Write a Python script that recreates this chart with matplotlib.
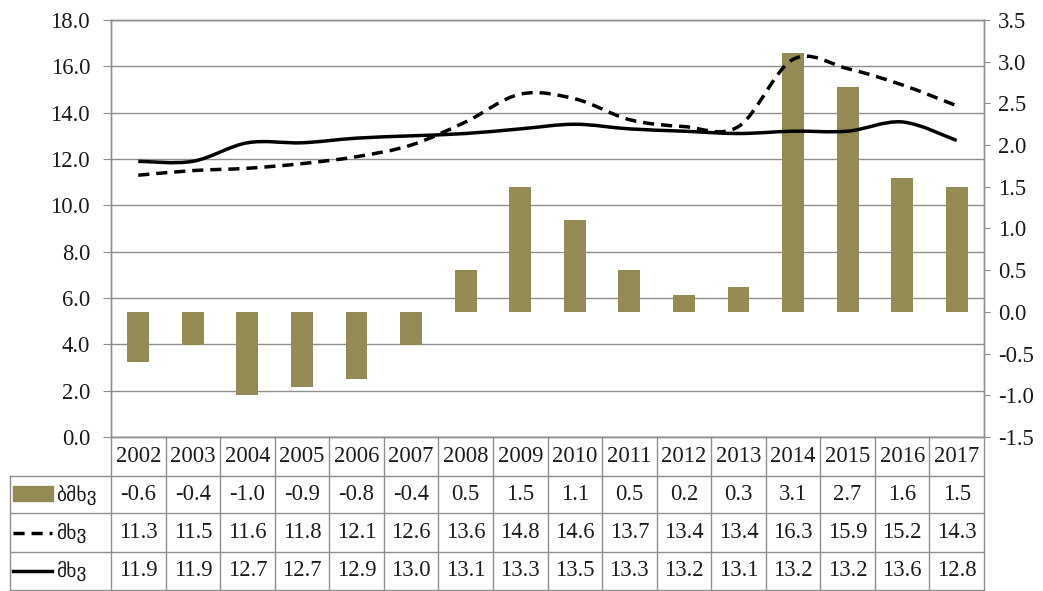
import numpy as np
import matplotlib
matplotlib.use("Agg")
import matplotlib.pyplot as plt
from matplotlib.patches import Rectangle, PathPatch
from matplotlib.lines import Line2D
from matplotlib.path import Path
import matplotlib.transforms as mtransforms

plt.rcParams["font.family"] = ["Liberation Serif", "DejaVu Sans"]
plt.rcParams["axes.unicode_minus"] = False

# ---- data ----
years = ["2002", "2003", "2004", "2005", "2006", "2007", "2008", "2009",
         "2010", "2011", "2012", "2013", "2014", "2015", "2016", "2017"]
bar_values = [-0.6, -0.4, -1.0, -0.9, -0.8, -0.4, 0.5, 1.5,
              1.1, 0.5, 0.2, 0.3, 3.1, 2.7, 1.6, 1.5]
dashed_values = [11.3, 11.5, 11.6, 11.8, 12.1, 12.6, 13.6, 14.8,
                 14.6, 13.7, 13.4, 13.4, 16.3, 15.9, 15.2, 14.3]
solid_values = [11.9, 11.9, 12.7, 12.7, 12.9, 13.0, 13.1, 13.3,
                13.5, 13.3, 13.2, 13.1, 13.2, 13.2, 13.6, 12.8]
bar_label = "ბმხვ"
dashed_label = "მხვ"
solid_label = "მხვ"

BAR_COLOR = "#948A54"
GRID = "#8f8f8f"
TEXT = "#1a1a1a"
FS = 16.3
W, H = 1043, 591

fig = plt.figure(figsize=(W / 100, H / 100), dpi=100)
L, R, T, B = 111, 984, 20, 437
ax = fig.add_axes([L / W, (H - B) / H, (R - L) / W, (B - T) / H])
ax2 = ax.twinx()

x = np.arange(len(years))


def smooth_path(xs, ys):
    """Bezier path through the points with Catmull-Rom style control points."""
    pts = np.column_stack([xs, ys]).astype(float)
    n = len(pts)
    verts = [pts[0]]
    codes = [Path.MOVETO]
    for i in range(n - 1):
        p0 = pts[i - 1] if i > 0 else pts[i]
        p1 = pts[i]
        p2 = pts[i + 1]
        p3 = pts[i + 2] if i + 2 < n else pts[i + 1]
        c1 = p1 + (p2 - p0) / 6.0
        c2 = p2 - (p3 - p1) / 6.0
        verts += [c1, c2, p2]
        codes += [Path.CURVE4] * 3
    return Path(verts, codes)


# left axis: the two series shown as lines
ax.set_xlim(-0.5, len(years) - 0.5)
ax.set_ylim(0, 18)
ax.set_yticks(np.arange(0, 18.1, 2))
ax.yaxis.set_major_formatter(matplotlib.ticker.FormatStrFormatter("%.1f"))
ax.grid(axis="y", color=GRID, lw=1)
ax.set_axisbelow(True)
ax.set_xticks([])

# right axis: bars
ax2.set_ylim(-1.5, 3.5)
ax2.set_yticks(np.arange(-1.5, 3.51, 0.5))
ax2.yaxis.set_major_formatter(matplotlib.ticker.FormatStrFormatter("%.1f"))
ax2.bar(x, bar_values, width=0.4, color=BAR_COLOR, zorder=2)

# lines are drawn on the left scale, placed above the bars
line_tr = ax.transData
dashed_patch = PathPatch(smooth_path(x, dashed_values), fill=False,
                         edgecolor="black", lw=2.5, linestyle=(0, (3.2, 2.0)),
                         zorder=4, capstyle="butt", transform=line_tr)
solid_patch = PathPatch(smooth_path(x, solid_values), fill=False,
                        edgecolor="black", lw=2.5, zorder=4, transform=line_tr)
ax2.add_patch(dashed_patch)
ax2.add_patch(solid_patch)

for a in (ax, ax2):
    for s in a.spines.values():
        s.set_color(GRID)
        s.set_linewidth(1)
ax.tick_params(axis="y", direction="out", length=6, color=GRID, labelsize=FS,
               pad=9, labelcolor=TEXT)
ax2.tick_params(axis="y", direction="out", length=4, color=GRID, labelsize=FS,
                pad=6, labelcolor=TEXT)
ax.tick_params(axis="x", length=0)

# ---- data table below the plot ----
blend = mtransforms.blended_transform_factory(ax.transData, ax.transAxes)


def ay(py):
    return (B - py) / (B - T)


def axx(px):
    return (px - L) / (R - L)


row_edges = [437, 476, 513, 552, 590]
line_kw = dict(color=GRID, lw=1, clip_on=False)

for py in row_edges[1:]:
    ax.add_line(Line2D([axx(10), 1.0], [ay(py), ay(py)], transform=ax.transAxes, **line_kw))
for i in range(len(years) + 1):
    ax.add_line(Line2D([i - 0.5, i - 0.5], [0, ay(row_edges[-1])], transform=blend, **line_kw))
ax.add_line(Line2D([axx(10), axx(10)], [ay(476), ay(row_edges[-1])],
                   transform=ax.transAxes, **line_kw))

rows = [
    [f"{v:.1f}" for v in bar_values],
    [f"{v:.1f}" for v in dashed_values],
    [f"{v:.1f}" for v in solid_values],
]
centers = [(row_edges[k] + row_edges[k + 1]) / 2 for k in range(4)]
for i, yr in enumerate(years):
    ax.text(i, ay(centers[0]), yr, transform=blend, ha="center", va="center",
            fontsize=FS, color=TEXT, clip_on=False)
    for r in range(3):
        ax.text(i, ay(centers[r + 1]), rows[r][i], transform=blend, ha="center",
                va="center", fontsize=FS, color=TEXT, clip_on=False)

# legend keys in the label column
ax.add_patch(Rectangle((axx(13), ay(501)), axx(53) - axx(13), ay(486) - ay(501),
                       transform=ax.transAxes, color=BAR_COLOR, clip_on=False))
ax.add_line(Line2D([axx(13), axx(52)], [ay(centers[2]), ay(centers[2])],
                   transform=ax.transAxes, color="black", lw=2.5,
                   linestyle=(0, (3.2, 2.0)), clip_on=False))
ax.add_line(Line2D([axx(13), axx(52)], [ay(centers[3]), ay(centers[3])],
                   transform=ax.transAxes, color="black", lw=2.5, clip_on=False))
for r, lab in enumerate([bar_label, dashed_label, solid_label]):
    ax.text(axx(56), ay(centers[r + 1]), lab, transform=ax.transAxes, ha="left",
            va="center", fontsize=14, family=["DejaVu Sans"], color=TEXT,
            clip_on=False)

fig.savefig("out.png", dpi=100, facecolor="white")
